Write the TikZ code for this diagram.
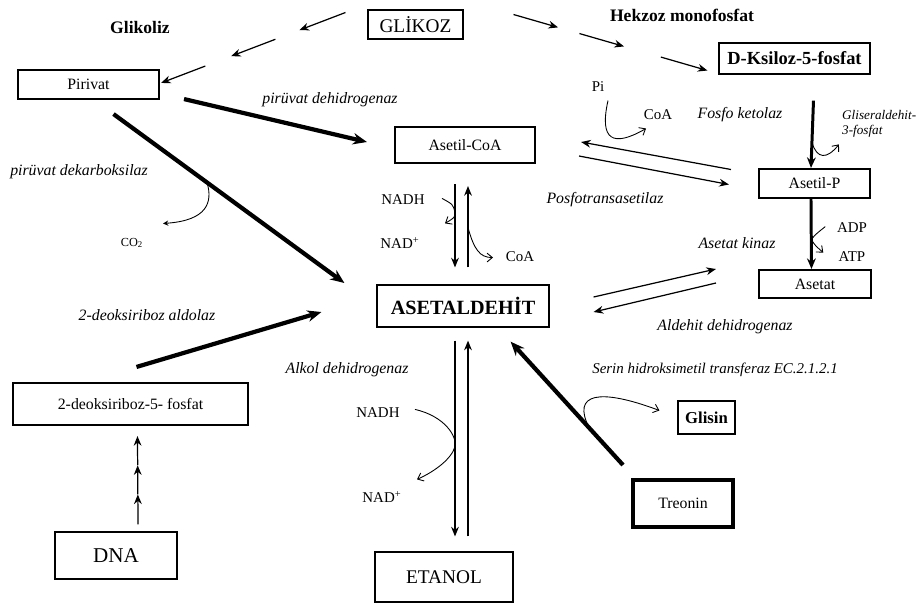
\documentclass[tikz,border=0pt]{standalone}
\usepackage{fontspec}
\setmainfont{Liberation Serif}
\usetikzlibrary{arrows.meta,positioning,calc}

\begin{document}
\begin{tikzpicture}[x=0.02cm, y=-0.02cm,
    box/.style={draw, line width=#1, inner sep=0pt, font=\fontsize{9}{10}\selectfont},
    box/.default=0.6pt,
    enz/.style={font=\fontsize{9}{10}\selectfont\itshape},
    lbl/.style={font=\fontsize{8.5}{10}\selectfont},
    ttl/.style={font=\fontsize{10}{12}\selectfont\bfseries},
    arr/.style={-{Stealth[length=5.5pt,width=4.4pt]}, line width=0.7pt},
    midarr/.style={-{Stealth[length=6pt,width=5pt]}, line width=1.7pt},
    heavy/.style={-{Stealth[length=8pt,width=6.5pt]}, line width=2.4pt},
    hook/.style={-{Straight Barb[length=3pt,width=5pt]}, line width=0.5pt}
]
\useasboundingbox (0,0) rectangle (920,603);

% Boxes
\node[box, minimum width=1.9cm, minimum height=0.58cm, font=\fontsize{11}{12}\selectfont] (glikoz) at (415.5,24.5) {GLİKOZ};
\node[box=0.7pt, minimum width=3.02cm, minimum height=0.62cm, font=\fontsize{10.5}{12}\selectfont\bfseries] (ksiloz) at (794.5,58.5) {D-Ksiloz-5-fosfat};
\node[box=1.2pt, minimum width=2.82cm, minimum height=0.58cm] (pirivat) at (88.5,84.5) {Pirivat};
\node[box=1.2pt, minimum width=2.8cm, minimum height=0.72cm] (asetilcoa) at (465,145) {Asetil-CoA};
\node[box=1.2pt, minimum width=2.22cm, minimum height=0.58cm] (asetilp) at (814.5,183.5) {Asetil-P};
\node[box=1.2pt, minimum width=2.24cm, minimum height=0.56cm] (asetat) at (815,284) {Asetat};
\node[box=0.7pt, minimum width=3.44cm, minimum height=0.84cm, font=\fontsize{11.5}{12}\selectfont\bfseries] (asetaldehit) at (463,306) {ASETALDEHİT};
\node[box=1.2pt, minimum width=4.7cm, minimum height=0.84cm] (deoksi) at (130.5,404) {2-deoksiriboz-5- fosfat};
\node[box, minimum width=2.44cm, minimum height=0.94cm, font=\fontsize{12}{14}\selectfont] (dna) at (116,555.5) {DNA};
\node[box, minimum width=2.76cm, minimum height=1.0cm, font=\fontsize{11}{12}\selectfont] (etanol) at (444,577) {ETANOL};
\node[box, minimum width=1.14cm, minimum height=0.66cm, font=\fontsize{9.5}{11}\selectfont\bfseries] (glisin) at (706.5,417.5) {Glisin};
\node[box=2.3pt, minimum width=2.0cm, minimum height=0.94cm] (treonin) at (683,503.5) {Treonin};

% Pathway titles
\node[ttl] (glikoliz) at (140,27) {Glikoliz};
\node[ttl] (hekzoz) at (682,15) {Hekzoz monofosfat};

% Glikoliz and hekzoz monofosfat arrows
\coordinate (g1) at ([shift={(-22,-12)}]glikoz.west);
\coordinate (g2) at ([shift={(1,14)}]pirivat.north east);
\foreach \a/\b in {0/0.25, 0.38/0.62, 0.76/1}
  \draw[arr] ($(g1)!\a!(g2)$) -- ($(g1)!\b!(g2)$);
\coordinate (h1) at ([shift={(50,-10)}]glikoz.east);
\coordinate (h2) at ([shift={(-11,12)}]ksiloz.west);
\foreach \a/\b in {0/0.23, 0.34/0.57, 0.76/1}
  \draw[arr] ($(h1)!\a!(h2)$) -- ($(h1)!\b!(h2)$);

% Heavy arrows
\draw[heavy] ([shift={(24,-1)}]pirivat.south east) -- ([shift={(-27,-3)}]asetilcoa.west);
\draw[heavy] ([shift={(25,14)}]pirivat.south) -- coordinate[pos=0.405] (co2a) ([shift={(-32,-23)}]asetaldehit.west);
\draw[heavy] ([shift={(6,-15)}]deoksi.north) -- ([shift={(-55,6)}]asetaldehit.west);
\draw[heavy] ([shift={(-8,-13)}]treonin.north west) -- coordinate[pos=0.3] (gly) ([shift={(-39,14)}]asetaldehit.south east);
\draw[midarr] ([shift={(19,26)}]ksiloz.south) -- coordinate[pos=0.62] (gap) ([xshift=-2]asetilp.north);
\draw[midarr] ([xshift=-2]asetilp.south) -- coordinate[pos=0.58] (adp) ([xshift=-2]asetat.north);

% Asetil-CoA <-> Asetaldehit
\draw[arr] ([shift={(-10,20)}]asetilcoa.south) -- coordinate[pos=0.34] (nadh1) ([shift={(-8,-17)}]asetaldehit.north);
\draw[arr] ([shift={(5,-17)}]asetaldehit.north) -- coordinate[pos=0.49] (coa1) ([shift={(3,22)}]asetilcoa.south);

% Asetaldehit <-> Etanol
\draw[arr] ([shift={(-8,13)}]asetaldehit.south) -- coordinate[pos=0.54] (nadh2) ([shift={(11,-15)}]etanol.north);
\draw[arr] ([shift={(24,-15)}]etanol.north) -- ([shift={(5,13)}]asetaldehit.south);

% Asetil-CoA <-> Asetil-P
\draw[arr] ([shift={(-27,-14)}]asetilp.west) -- coordinate[pos=0.8] (pi) ([shift={(45,-3)}]asetilcoa.east);
\draw[arr] ([shift={(43,11)}]asetilcoa.east) -- ([shift={(-29,1)}]asetilp.west);

% Asetaldehit <-> Asetat
\draw[arr] ([shift={(44,-9)}]asetaldehit.east) -- ([shift={(-42,-15)}]asetat.west);
\draw[arr] ([shift={(-42,-1)}]asetat.west) -- ([shift={(44,6)}]asetaldehit.east);

% DNA -> 2-deoksiriboz-5-fosfat
\coordinate (d1) at ([shift={(22,-7)}]dna.north);
\coordinate (d2) at ([shift={(7,10)}]deoksi.south);
\foreach \a/\b in {0/0.34, 0.34/0.67, 0.67/1}
  \draw[arr] ($(d1)!\a!(d2)$) -- ($(d1)!\b!(d2)$);

% Side hooks
\draw[-{Stealth[length=3pt,width=3pt]}, line width=0.5pt] (co2a) .. controls ($(co2a)+(6,20)$) and ($(co2a)+(0,38)$) .. ($(co2a)+(-44,41)$);
\draw[hook] ($(nadh1)+(-13,-14)$) .. controls ($(nadh1)+(-2,-8)$) .. (nadh1) .. controls ($(nadh1)+(0,5)$) .. ($(nadh1)+(-10,11)$);
\draw[hook] (coa1) .. controls ($(coa1)+(6,22)$) and ($(coa1)+(12,30)$) .. ($(coa1)+(25,30)$);
\draw[hook] ($(nadh2)+(-40,-37)$) .. controls ($(nadh2)+(-10,-30)$) and ($(nadh2)+(2,-10)$) .. (nadh2) .. controls ($(nadh2)+(-3,12)$) and ($(nadh2)+(-20,25)$) .. ($(nadh2)+(-38,33)$);
\draw[hook] ($(pi)+(-3,-47)$) .. controls ($(pi)+(-12,-7)$) and ($(pi)+(2,0)$) .. ($(pi)+(35,-19)$);
\draw[hook] (gap) .. controls ($(gap)+(5,17)$) and ($(gap)+(15,17)$) .. ($(gap)+(27,2)$);
\draw[hook] ($(adp)+(14,-13)$) .. controls ($(adp)+(4,-5)$) .. (adp) .. controls ($(adp)+(4,6)$) .. ($(adp)+(12,13)$);
\draw[hook] (gly) .. controls ($(gly)+(-18,-35)$) and ($(gly)+(10,-40)$) .. ([shift={(-18,-7)}]glisin.west);

% Enzymes
\node[enz] (pdh) at (330,100) {pirüvat dehidrogenaz};
\node[enz] (pdc) at (79,172) {pirüvat dekarboksilaz};
\node[enz] (dra) at (147,315) {2-deoksiriboz aldolaz};
\node[enz] (adh) at (347,370) {Alkol dehidrogenaz};
\node[enz] (pta) at (605,200) {Posfotransasetilaz};
\node[enz] (pk) at (740,115) {Fosfo ketolaz};
\node[enz] (ack) at (737,243) {Asetat kinaz};
\node[enz] (aldh) at (725,327) {Aldehit dehidrogenaz};
\node[enz, font=\fontsize{8.5}{10}\selectfont\itshape] (sht) at (715,370) {Serin hidroksimetil transferaz EC.2.1.2.1};
\node[enz, font=\fontsize{7.5}{8.5}\selectfont\itshape, align=left, anchor=west] (g3p) at (836,124) {Gliseraldehit-\\3-fosfat};

% Cofactors
\node[lbl, font=\fontsize{7}{8}\selectfont] (co2) at (132,243) {CO\textsubscript{2}};
\node[lbl] (nadh1l) at (403,200) {NADH};
\node[lbl] (nad1l) at (400,243) {NAD\textsuperscript{+}};
\node[lbl] (coa1l) at (520,257) {CoA};
\node[lbl] (nadh2l) at (378,413) {NADH};
\node[lbl] (nad2l) at (382,497) {NAD\textsuperscript{+}};
\node[lbl] (pil) at (598,87) {Pi};
\node[lbl] (coa2l) at (658,115) {CoA};
\node[lbl] (adpl) at (852,228) {ADP};
\node[lbl] (atpl) at (852,257) {ATP};
\end{tikzpicture}
\end{document}
